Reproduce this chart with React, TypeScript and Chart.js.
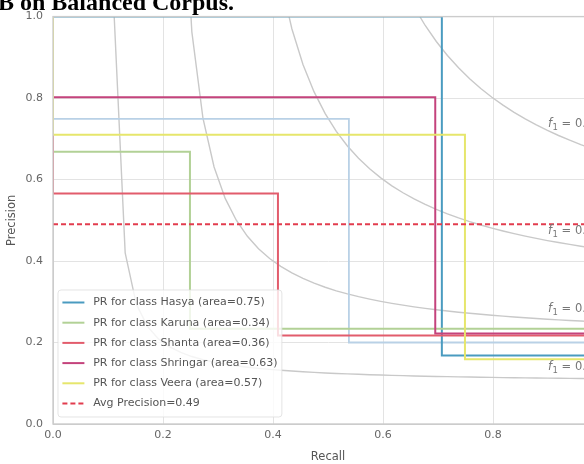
import React, { useEffect, useRef } from 'react';
import { Chart, registerables } from 'chart.js';

Chart.register(...registerables);

// ---- data ----
const classNames = ['Hasya', 'Karuna', 'Shanta', 'Shringar', 'Veera'];
const classAreas = [0.75, 0.34, 0.36, 0.63, 0.57];
const classColors = ['#4a9bc0', '#b2d196', '#e25c6c', '#c4437c', '#e6e66c'];

// recall / precision points (sklearn order: recall descending), drawn as post-steps
const hasyaRecall = [1, 0.707, 0];
const hasyaPrecision = [0.168, 1.0, 1.0];
const karunaRecall = [1, 0.249, 0];
const karunaPrecision = [0.234, 0.668, 1.0];
const shantaRecall = [1, 0.409, 0];
const shantaPrecision = [0.217, 0.566, 1.0];
const shringarRecall = [1, 0.695, 0];
const shringarPrecision = [0.222, 0.802, 1.0];
const veeraRecall = [1, 0.749, 0];
const veeraPrecision = [0.159, 0.71, 1.0];
// faint unlabeled curve
const extraRecall = [1, 0.538, 0];
const extraPrecision = [0.2, 0.749, 1.0];
const extraColor = '#b9d1e6';

const avgPrecision = 0.49;
const avgRecallSpan = [0, 1];
const avgColor = '#e23c4e';

const f1Levels = [0.2, 0.4, 0.6, 0.8];
const tickValues = [0, 0.2, 0.4, 0.6, 0.8, 1.0];

// iso-F1 reference curves (definition: p = f*r / (2r - f)), sampled like np.linspace(0.01, 1, 50)
const isoX: number[] = Array.from({ length: 50 }, (_, i) => 0.01 + (i * 0.99) / 49);
const isoCurve = (f: number) =>
  isoX.map((r) => ({ x: r, y: (f * r) / (2 * r - f) })).filter((p) => p.y >= 0);

const FONT = '"DejaVu Sans", sans-serif';

const pts = (rx: number[], py: number[]) => rx.map((r, i) => ({ x: r, y: py[i] }));

const curveSets = [
  { recall: hasyaRecall, precision: hasyaPrecision },
  { recall: karunaRecall, precision: karunaPrecision },
  { recall: shantaRecall, precision: shantaPrecision },
  { recall: shringarRecall, precision: shringarPrecision },
  { recall: veeraRecall, precision: veeraPrecision },
];

function buildDatasets() {
  const list: any[] = [];
  f1Levels.forEach((f) => {
    list.push({
      label: '',
      data: isoCurve(f),
      borderColor: '#c9c9c9',
      borderWidth: 1.4,
      pointRadius: 0,
      inLegend: false,
    });
  });
  list.push({
    label: '',
    data: pts(extraRecall, extraPrecision),
    borderColor: extraColor,
    borderWidth: 1.8,
    pointRadius: 0,
    stepped: 'before',
    inLegend: false,
  });
  curveSets.forEach((c, i) => {
    list.push({
      label: `PR for class ${classNames[i]} (area=${classAreas[i].toFixed(2)})`,
      data: pts(c.recall, c.precision),
      borderColor: classColors[i],
      borderWidth: 2,
      pointRadius: 0,
      stepped: 'before',
      inLegend: true,
    });
  });
  list.push({
    label: `Avg Precision=${avgPrecision.toFixed(2)}`,
    data: avgRecallSpan.map((r) => ({ x: r, y: avgPrecision })),
    borderColor: avgColor,
    borderWidth: 2,
    borderDash: [5, 3],
    pointRadius: 0,
    inLegend: true,
  });
  const n = list.length;
  list.forEach((d, i) => {
    d.order = n - i;
    d.fill = false;
    d.tension = 0;
    d.clip = 0;
  });
  return list;
}

const framePlugin = {
  id: 'frameOnTop',
  afterDatasetsDraw(chart: any) {
    const { ctx, chartArea } = chart;
    ctx.save();
    ctx.strokeStyle = '#cccccc';
    ctx.lineWidth = 1.4;
    ctx.strokeRect(chartArea.left, chartArea.top, chartArea.right - chartArea.left, chartArea.bottom - chartArea.top);
    ctx.restore();
  },
};

const f1LabelPlugin = {
  id: 'f1Labels',
  afterDatasetsDraw(chart: any) {
    const { ctx, scales } = chart;
    const xs = scales.x;
    const ys = scales.y;
    ctx.save();
    ctx.fillStyle = '#777777';
    ctx.textBaseline = 'alphabetic';
    ctx.textAlign = 'left';
    f1Levels.forEach((f) => {
      const r = isoX[45];
      const p = (f * r) / (2 * r - f);
      const px = xs.getPixelForValue(0.9);
      const py = ys.getPixelForValue(p + 0.02);
      ctx.font = `italic 11.5px ${FONT}`;
      ctx.fillText('f', px, py);
      let w = ctx.measureText('f').width + 0.5;
      ctx.font = `8.5px ${FONT}`;
      ctx.fillText('1', px + w, py + 3);
      w += ctx.measureText('1').width;
      ctx.font = `11.5px ${FONT}`;
      ctx.fillText(' = ' + f.toFixed(1), px + w, py);
    });
    ctx.restore();
  },
};

const legendPlugin = {
  id: 'boxLegend',
  afterDatasetsDraw(chart: any) {
    const { ctx, chartArea } = chart;
    const items = chart.data.datasets.filter((d: any) => d.inLegend);
    const fs = 11;
    const pitch = 20.2;
    ctx.save();
    ctx.font = `${fs}px ${FONT}`;
    const maxW = Math.max(...items.map((d: any) => ctx.measureText(d.label).width));
    const left = chartArea.left + 5;
    const top = chartArea.bottom - 134;
    const pad = 4.4;
    const handle = 22;
    const gap = 8.8;
    const w = pad + handle + gap + maxW + pad;
    const h = pitch * (items.length - 1) + 26;
    ctx.globalAlpha = 0.8;
    ctx.fillStyle = '#ffffff';
    ctx.strokeStyle = '#dddddd';
    ctx.lineWidth = 1;
    const rr = 3;
    ctx.beginPath();
    ctx.moveTo(left + rr, top);
    ctx.lineTo(left + w - rr, top);
    ctx.quadraticCurveTo(left + w, top, left + w, top + rr);
    ctx.lineTo(left + w, top + h - rr);
    ctx.quadraticCurveTo(left + w, top + h, left + w - rr, top + h);
    ctx.lineTo(left + rr, top + h);
    ctx.quadraticCurveTo(left, top + h, left, top + h - rr);
    ctx.lineTo(left, top + rr);
    ctx.quadraticCurveTo(left, top, left + rr, top);
    ctx.closePath();
    ctx.fill();
    ctx.stroke();
    ctx.globalAlpha = 1;
    items.forEach((d: any, i: number) => {
      const cy = top + 12.5 + i * pitch;
      ctx.strokeStyle = d.borderColor;
      ctx.lineWidth = d.borderWidth;
      ctx.setLineDash(d.borderDash || []);
      ctx.beginPath();
      ctx.moveTo(left + pad, cy);
      ctx.lineTo(left + pad + handle, cy);
      ctx.stroke();
      ctx.setLineDash([]);
      ctx.fillStyle = '#555555';
      ctx.textBaseline = 'middle';
      ctx.fillText(d.label, left + pad + handle + gap, cy);
    });
    ctx.restore();
  },
};

const gridColor = (c: any) => (c.tick && (c.tick.value === 0 || c.tick.value === 1) ? '#cccccc' : '#e3e3e3');

export default function App() {
  const ref = useRef<HTMLCanvasElement>(null);
  useEffect(() => {
    if (!ref.current) return;
    const chart = new Chart(ref.current, {
      type: 'line',
      data: { datasets: buildDatasets() },
      options: {
        animation: false,
        responsive: false,
        maintainAspectRatio: false,
        events: [],
        layout: { padding: { top: 13, right: 37, left: 0, bottom: 0 } },
        plugins: { legend: { display: false }, tooltip: { enabled: false }, title: { display: false } },
        scales: {
          x: {
            type: 'linear',
            min: 0,
            max: 1,
            afterFit: (s: any) => {
              s.height = 40;
            },
            afterBuildTicks: (s: any) => {
              s.ticks = tickValues.map((v) => ({ value: v }));
            },
            ticks: {
              callback: (v: any) => Number(v).toFixed(1),
              color: '#666666',
              font: { family: FONT, size: 11 },
              padding: 5,
              maxRotation: 0,
              autoSkip: false,
            },
            grid: { color: gridColor, drawTicks: false, lineWidth: 1 },
            border: { color: '#cccccc', width: 1 },
            title: {
              display: true,
              text: 'Recall',
              color: '#555555',
              font: { family: FONT, size: 11.5 },
              padding: { top: 0, bottom: 0 },
            },
          },
          y: {
            type: 'linear',
            min: 0,
            max: 1,
            afterFit: (s: any) => {
              s.width = 53;
            },
            afterBuildTicks: (s: any) => {
              s.ticks = tickValues.map((v) => ({ value: v }));
            },
            ticks: {
              callback: (v: any) => Number(v).toFixed(1),
              color: '#666666',
              font: { family: FONT, size: 11 },
              padding: 10,
              autoSkip: false,
            },
            grid: { color: gridColor, drawTicks: false, lineWidth: 1 },
            border: { color: '#cccccc', width: 1 },
            title: {
              display: true,
              text: 'Precision',
              color: '#555555',
              font: { family: FONT, size: 11.5 },
              padding: { top: 5, bottom: 0 },
            },
          },
        },
      } as any,
      plugins: [framePlugin, f1LabelPlugin, legendPlugin],
    });
    return () => chart.destroy();
  }, []);

  return (
    <div
      style={{
        position: 'fixed',
        left: 0,
        top: 0,
        width: 584,
        height: 464,
        overflow: 'hidden',
        background: '#ffffff',
      }}
    >
      <canvas
        ref={ref}
        width={640}
        height={464}
        style={{ position: 'absolute', left: 0, top: 0, width: 640, height: 464 }}
      />
      <div
        style={{
          position: 'absolute',
          left: -2,
          top: -10,
          font: 'bold 24px "Liberation Serif", serif',
          lineHeight: '24px',
          whiteSpace: 'nowrap',
          color: '#000000',
        }}
      >
        B on Balanced Corpus.
      </div>
    </div>
  );
}
